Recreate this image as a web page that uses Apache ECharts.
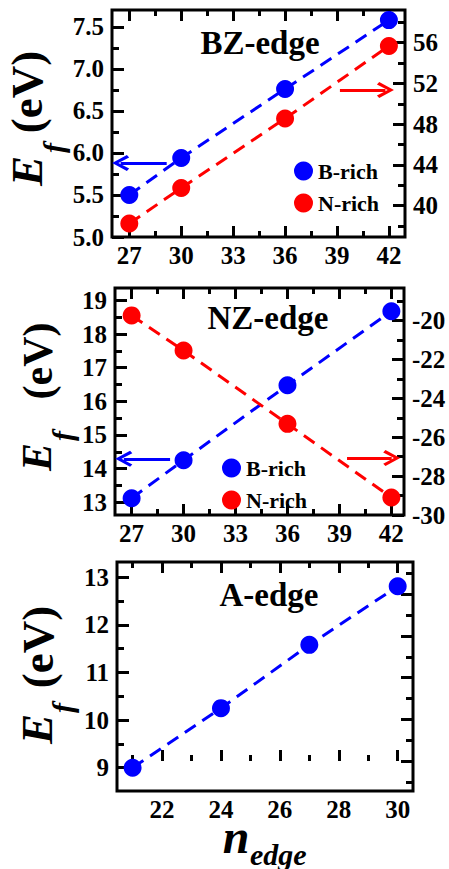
<!DOCTYPE html>
<html>
<head>
<meta charset="utf-8">
<script src="https://cdn.jsdelivr.net/npm/echarts@6/dist/echarts.min.js"></script>
<style>
  html, body { margin: 0; padding: 0; background: #fff; }
  #chart { width: 449px; height: 869px; }
</style>
</head>
<body>
<div id="chart"></div>
<script>
// values
var bzEdge = [27, 30, 36, 42];
var bzBrich = [5.50, 5.94, 6.76, 7.58];
var bzNrich = [38.25, 41.73, 48.55, 55.67];

var nzEdge = [27, 30, 36, 42];
var nzBrich = [13.12, 14.25, 16.48, 18.68];
var nzNrich = [-19.73, -21.54, -25.31, -29.10];

var aEdge = [21, 24, 27, 30];
var aBrich = [9.00, 10.25, 11.58, 12.81];

// tick labels / tick positions
var bzXTicks = [27, 30, 33, 36, 39, 42];
var bzXMinor = [28.5, 31.5, 34.5, 37.5, 40.5];
var bzLeftTicks = [5.0, 5.5, 6.0, 6.5, 7.0, 7.5];
var bzLeftMinor = [5.25, 5.75, 6.25, 6.75, 7.25];
var bzRightTicks = [40, 44, 48, 52, 56];
var bzRightMinor = [38, 42, 46, 50, 54, 58];

var nzXTicks = [27, 30, 33, 36, 39, 42];
var nzXMinor = [28.5, 31.5, 34.5, 37.5, 40.5];
var nzLeftTicks = [13, 14, 15, 16, 17, 18, 19];
var nzLeftMinor = [13.5, 14.5, 15.5, 16.5, 17.5, 18.5];
var nzRightTicks = [-30, -28, -26, -24, -22, -20];
var nzRightMinor = [-29, -27, -25, -23, -21, -19];

var aXTicks = [22, 24, 26, 28, 30];
var aXMinor = [21, 23, 25, 27, 29];
var aYTicks = [9, 10, 11, 12, 13];
var aYMinor = [9.5, 10.5, 11.5, 12.5];
var aRightTicks = [0, 1, 2, 3, 4];
var aRightMinor = [-0.5, 0.5, 1.5, 2.5, 3.5, 4.5];

var FONT = "'Liberation Serif', 'Times New Roman', serif";
var BLUE = '#0000ff';
var RED = '#ff0000';

var chart = echarts.init(document.getElementById('chart'), null, { renderer: 'svg' });

function tickAxis(gi, pos, min, max, vals, len, showLabel, dec) {
    var ax = {
        type: 'value',
        gridIndex: gi,
        position: pos,
        min: min,
        max: max,
        axisLine: { show: false },
        splitLine: { show: false },
        axisTick: { show: true, inside: true, length: len, customValues: vals,
            lineStyle: { color: '#000', width: 3 } },
        axisLabel: {
            show: showLabel, customValues: vals, margin: pos === 'bottom' ? 6 : 8,
            color: '#000', fontFamily: FONT, fontWeight: 'bold', fontSize: 25
        }
    };
    if (dec) ax.axisLabel.formatter = function (v) { return Number(v).toFixed(1); };
    return ax;
}

var xAxes = [], yAxes = [];
function panel(gi, x, yl, yr) {
    // x: [min,max,major,minor]  yl/yr: [min,max,major,minor,showLabels,oneDecimal]
    xAxes.push(tickAxis(gi, 'bottom', x[0], x[1], x[2], 11, true));
    xAxes.push(tickAxis(gi, 'bottom', x[0], x[1], x[3], 6, false));
    xAxes.push(tickAxis(gi, 'top', x[0], x[1], x[2], 11, false));
    xAxes.push(tickAxis(gi, 'top', x[0], x[1], x[3], 6, false));
    yAxes.push(tickAxis(gi, 'left', yl[0], yl[1], yl[2], 12, true, yl[5]));
    yAxes.push(tickAxis(gi, 'left', yl[0], yl[1], yl[3], 7, false));
    yAxes.push(tickAxis(gi, 'right', yr[0], yr[1], yr[2], 12, yr[4]));
    yAxes.push(tickAxis(gi, 'right', yr[0], yr[1], yr[3], 7, false));
}
panel(0, [26, 42.93, bzXTicks, bzXMinor], [5.0, 7.70, bzLeftTicks, bzLeftMinor, true, true],
      [36.93, 59.2, bzRightTicks, bzRightMinor, true]);
panel(1, [26.04, 42.73, nzXTicks, nzXMinor], [12.62, 19.37, nzLeftTicks, nzLeftMinor, true],
      [-30, -18.32, nzRightTicks, nzRightMinor, true]);
panel(2, [20.47, 30.52, aXTicks, aXMinor], [8.51, 13.32, aYTicks, aYMinor, true],
      [-0.72, 4.775, aRightTicks, aRightMinor, false]);

function pts(xs, ys) {
    return xs.map(function (v, i) { return [v, ys[i]]; });
}

var chevron = 'path://M10,0 L20,13 L17,15 L10,5.5 L3,15 L0,13 Z';
function arrow(color, from, to) {
    return {
        silent: true,
        symbol: ['none', chevron],
        symbolSize: [16, 17],
        label: { show: false },
        lineStyle: { color: color, width: 3, type: 'solid' },
        data: [[{ coord: from }, { coord: to }]]
    };
}

function line(name, color, xi, yi, data, mark) {
    var s = {
        name: name,
        type: 'line',
        xAxisIndex: xi,
        yAxisIndex: yi,
        data: data,
        symbol: 'circle',
        symbolSize: 18,
        itemStyle: { color: color },
        lineStyle: { color: color, width: 3, type: [13, 8] },
        z: 3
    };
    if (mark) s.markLine = mark;
    return s;
}

function txt(x, y, text, size, opts) {
    opts = opts || {};
    return {
        type: 'text', x: x, y: y, rotation: opts.rot || 0, z: 10,
        style: {
            text: text, fill: '#000', fontFamily: FONT, fontWeight: 'bold',
            fontStyle: opts.italic ? 'italic' : 'normal', fontSize: size,
            lineHeight: opts.lh || size,
            align: opts.align || 'center', verticalAlign: 'middle'
        }
    };
}
var R = Math.PI / 2;

function legendAt(left, top) {
    return {
        left: left, top: top, orient: 'vertical', icon: 'circle',
        itemWidth: 19, itemHeight: 19, itemGap: 10, padding: 0,
        data: ['B-rich', 'N-rich'], selectedMode: false,
        textStyle: { fontFamily: FONT, fontWeight: 'bold', fontSize: 22, color: '#000' }
    };
}

chart.setOption({
    animation: false,
    backgroundColor: '#fff',
    textStyle: { fontFamily: FONT, fontWeight: 'bold', color: '#000' },
    grid: [
        { left: 112, top: 10, width: 293, height: 227, show: true, borderColor: '#000', borderWidth: 3, backgroundColor: 'transparent' },
        { left: 115, top: 288, width: 289, height: 227, show: true, borderColor: '#000', borderWidth: 3, backgroundColor: 'transparent' },
        { left: 117, top: 562, width: 296, height: 229, show: true, borderColor: '#000', borderWidth: 3, backgroundColor: 'transparent' }
    ],
    xAxis: xAxes,
    yAxis: yAxes,
    legend: [legendAt(294, 160), legendAt(222, 457)],
    series: [
        line('B-rich', BLUE, 0, 0, pts(bzEdge, bzBrich), arrow(BLUE, [29.16, 5.88], [26.5, 5.88])),
        line('N-rich', RED, 0, 2, pts(bzEdge, bzNrich), arrow(RED, [39.17, 51.35], [41.8, 51.35])),
        line('B-rich', BLUE, 4, 4, pts(nzEdge, nzBrich), arrow(BLUE, [29.22, 14.29], [26.55, 14.29])),
        line('N-rich', RED, 4, 6, pts(nzEdge, nzNrich), arrow(RED, [39.44, -27.07], [42.02, -27.07])),
        line('A-edge', BLUE, 8, 8, pts(aEdge, aBrich))
    ],
    graphic: [
        txt(260, 43, 'BZ-edge', 33),
        txt(268, 318, 'NZ-edge', 33),
        txt(269, 595, 'A-edge', 33),
        // y-axis names: E_f (eV)
        txt(27, 171, 'E', 45, { rot: R, italic: true }),
        txt(53, 148, 'f', 30, { rot: R, italic: true }),
        txt(27, 92, '(eV)', 45, { rot: R }),
        txt(37, 457, 'E', 42, { rot: R, italic: true }),
        txt(62, 436, 'f', 30, { rot: R, italic: true }),
        txt(38, 361, '(eV)', 42, { rot: R }),
        txt(37, 729, 'E', 45, { rot: R, italic: true }),
        txt(62, 708, 'f', 30, { rot: R, italic: true }),
        txt(38, 647, '(eV)', 45, { rot: R }),
        // x-axis name: n_edge
        txt(236, 836, 'n', 48, { italic: true, lh: 20 }),
        txt(250, 854, 'edge', 30, { italic: true, align: 'left', lh: 18 })
    ]
});
</script>
</body>
</html>
